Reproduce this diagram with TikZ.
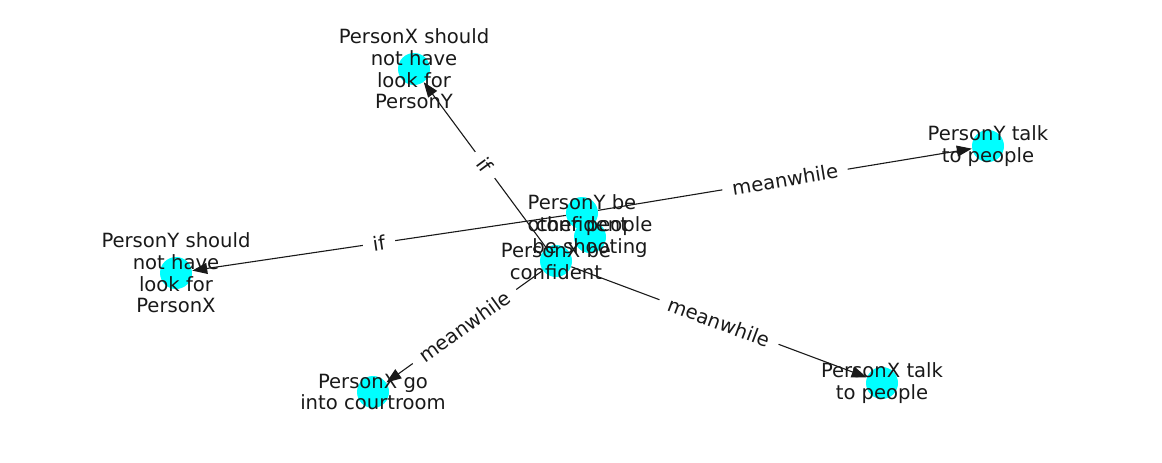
\documentclass[tikz,border=0pt]{standalone}
\usepackage{fontspec}
\setmainfont{DejaVu Sans}
\usetikzlibrary{arrows.meta}
\definecolor{nodecyan}{RGB}{0,255,255}
\definecolor{inkgray}{RGB}{25,25,25}
\newcommand{\lblfont}{\fontsize{9.8}{10.85}\selectfont}

\begin{document}
\begin{tikzpicture}[x=0.5pt,y=-0.5pt,
  vertex/.style={circle,fill=nodecyan,minimum size=16pt,inner sep=0pt},
  txt/.style={align=center,font=\lblfont,text=inkgray,inner sep=0pt},
  link/.style={-{Triangle[length=7.5pt,width=5.5pt]},line width=0.55pt,inkgray},
  rel/.style={midway,sloped,fill=white,inner xsep=5pt,inner ysep=2pt,font=\lblfont,text=inkgray}]
\useasboundingbox (0,0) rectangle (1162,462);
% nodes
\node[vertex] (xconf) at (556,261) {};
\node[vertex] (yconf) at (582,213) {};
\node[vertex] (shoot) at (590,237) {};
\node[vertex] (xlook) at (414,69) {};
\node[vertex] (ylook) at (176,273) {};
\node[vertex] (ytalk) at (988,146) {};
\node[vertex] (xtalk) at (882,383) {};
\node[vertex] (court) at (373,392) {};
% edges
\draw[link] (xconf) -- (xlook) node[rel] {if};
\draw[link] (yconf) -- (ylook) node[rel] {if};
\draw[link] (yconf) -- (ytalk) node[rel] {meanwhile};
\draw[link] (xconf) -- (court) node[rel] {meanwhile};
\draw[link] (xconf) -- (xtalk) node[rel] {meanwhile};
% labels
\node[txt] at (xconf) {PersonX be\\confident};
\node[txt] at (yconf) {PersonY be\\confident};
\node[txt] at (shoot) {other people\\be shooting};
\node[txt] at (xlook) {PersonX should\\not have\\look for\\PersonY};
\node[txt] at (ylook) {PersonY should\\not have\\look for\\PersonX};
\node[txt] at (ytalk) {PersonY talk\\to people};
\node[txt] at (xtalk) {PersonX talk\\to people};
\node[txt] at (court) {PersonX go\\into courtroom};
\end{tikzpicture}
\end{document}
